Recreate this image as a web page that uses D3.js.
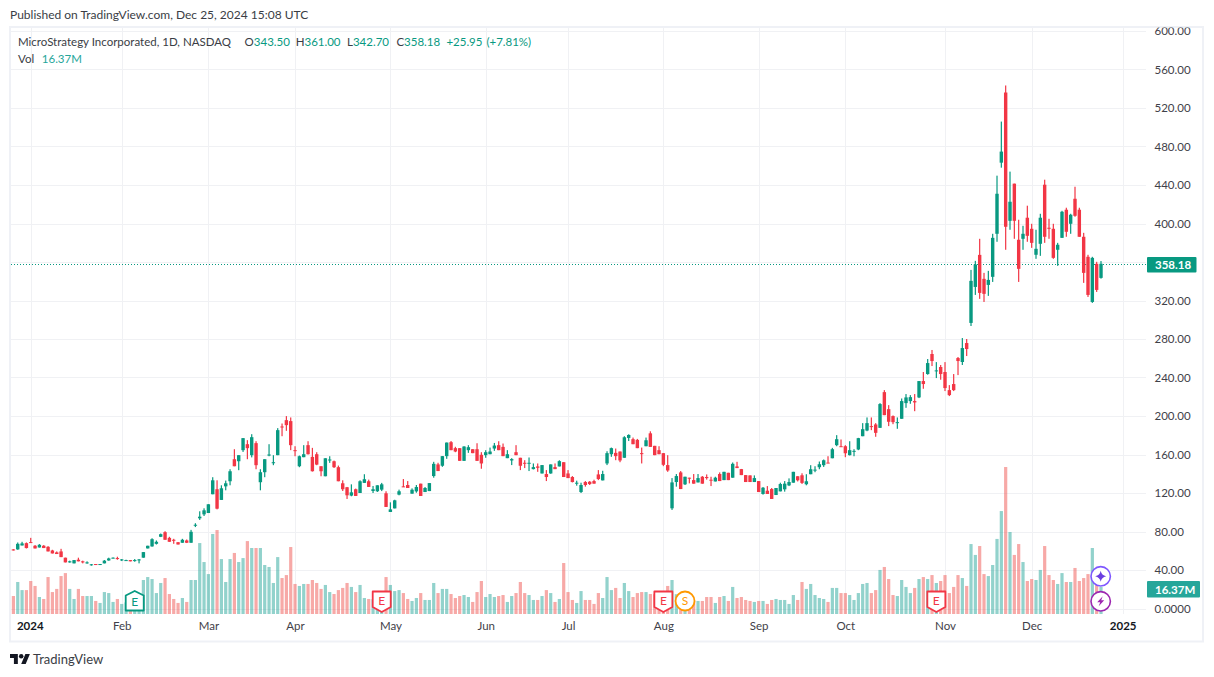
<!DOCTYPE html>
<html>
<head>
<meta charset="utf-8">
<script src="https://cdn.jsdelivr.net/npm/d3@7"></script>
<style>
  html, body { margin: 0; padding: 0; background: #fff; }
  text, .tick text { font-family: Lato, "Noto Sans", sans-serif; }
</style>
</head>
<body>
<script>
// Daily candles, position 0 = last days of Dec 2023, position 251 = Dec 24 2024
var opens = [
  61.4,61.4,65.5,67.9,69,65.2,63.4,65.2,64.1,60.3,
  58.3,59.3,52.8,47.9,46.9,50.7,49,47.6,45.2,46.2,
  45.9,46.9,49.9,52,52.4,50,49.9,50.3,49.9,50.3,
  52.8,62.4,64.5,67.2,74.5,79.3,73.4,71.4,68.9,68.3,
  70.7,68.3,86.5,93.7,97.8,99.2,118.7,123.9,112.8,126.9,
  132.2,155.1,153,164.5,170.7,159.3,171.8,131.2,141.6,158.9,
  150.9,159.3,189.1,195.7,194.7,164.5,147.8,157.2,169.7,157.5,
  160.3,147.8,137.4,154.5,153,146.8,130.1,126,117.3,123.9,
  120,130.5,132.2,122.1,121.8,123.5,119.7,100.3,104,118.3,
  126.9,128.3,119.3,121.7,129.7,121,122,137.6,149.7,148.3,
  158.3,172.8,166.6,166.6,153.4,164.5,165.5,165.5,159.7,159.3,
  160.3,166.2,169.7,167.9,156.2,153.8,162.4,156.6,151.4,150.7,
  144.8,147.6,140.3,139.7,140.3,146.9,147.6,152,140.3,136.6,
  130,121,131.4,131.7,132.4,139.3,133.1,150.7,160.3,161.7,
  163.1,156.6,177.2,175.9,175.2,161.4,168.6,182,169,164.5,
  161.4,149,104.1,131.4,141.4,129,135.9,133.4,131,136.9,
  136.6,133.8,132,139.7,133.4,141,135.9,147.6,144.8,138.6,
  138.3,131.4,132.4,119,122.4,124.1,117.9,121.7,123.8,127.9,
  130.7,137.4,138.4,129.1,139.5,143.3,146.8,148.9,151.6,156.1,
  169.7,168.6,168.6,159.3,163.1,165.2,179,184.9,189.5,191.2,
  187.7,224.8,207.1,199.9,192.9,197.1,213.4,215.5,215.5,219.3,
  236.3,243.6,264.4,246.4,250.9,245.7,226.9,233.2,260.2,256.1,
  275.8,296.7,334.1,367.4,342.5,336.2,344.6,389.3,463.2,536.1,
  402.8,441.4,383.1,384.1,406,394.5,367.5,378.9,440.3,395.6,
  394.5,372.7,385.1,414.3,399.7,425.7,414.3,386.2,365.4,318.5,
  358.1,343.5
];
var closes = [
  60.3,67.2,67.6,62.8,68.5,62.4,66.2,62.8,59.3,57.2,
  56.6,53.4,47.9,49,50.3,49,47.9,47.9,45.9,45.9,
  46.2,49.7,52,52.8,51.4,51,50.3,49,50.3,51,
  58.6,65.2,72,69.3,77.2,71.4,69.3,70.7,66.5,71.4,
  68.3,79.7,87,95.4,102,108.3,133.2,103.7,124.9,130.1,
  142.6,147.8,159.3,177,166.6,178,148.9,141.6,155.1,160,
  152,185.3,188.4,190.5,169.7,164,158.2,160.3,160.3,142.6,
  149.5,142.6,156.1,154.8,146.8,132.2,123.9,117.6,120.7,116.9,
  132.2,134.3,126.3,123.9,128,129,105.5,103,112.4,121.8,
  126.2,125.2,123.4,126.2,116.9,125.2,130.3,150.3,142.8,158.3,
  172.4,164.5,163.1,153.4,168.3,167.6,161.4,153.4,150.7,162.4,
  163.1,169.3,164.5,158.3,160.3,155.2,159.3,148.3,150.7,151.4,
  146.9,146.2,149,136.6,149.7,144.8,153.1,136.6,135.5,131.4,
  130.7,128.3,128.3,129.3,129.7,134.5,139.7,161.4,166.6,158.3,
  153.8,177.9,180.3,170.7,166.6,161,174.8,167.9,159.3,160.3,
  149.3,143.4,131,137.6,124.1,136.9,135.5,129.7,135.5,129.7,
  135.5,133.4,135.9,132.4,142,133.4,150.3,145.9,138.6,131.4,
  131.4,135.5,121,125.5,119,113.8,125.2,129.3,129.7,131.4,
  142,133.2,130.5,132.2,144.7,144.3,149.9,154,151.3,165.5,
  175.9,167.9,161.3,164.5,163.8,177,186.3,192.6,188.8,182.5,
  212.4,200.9,194,193.6,193.6,215.5,219.3,219.6,214.1,236.3,
  233.2,255,257.1,247.4,243.6,229,221.7,226.9,257.1,270.6,
  269.6,340.4,357.4,327.9,326.9,341.4,385.1,430.9,474.7,396.6,
  422.6,402.8,352.9,389.3,387.2,379.9,373.7,406,386.2,394.5,
  364.3,377.9,412.2,391.4,409.1,408,386.2,348.7,325.8,364.3,
  331,358.18
];
var highs = [
  61.6,68.6,69.3,68.6,73.4,65.9,66.9,65.9,64.8,61,
  59.3,62,52.8,49.7,50.3,52.8,49.7,49,46.2,46.2,
  46.2,50.3,52.8,53.1,53.8,51.4,50.7,50.3,51.4,51.4,
  58.6,65.2,73,70.7,77.9,80.3,74.5,72.4,68.9,72.4,
  71.7,81.7,88.6,101,104.1,108.3,136.4,133.2,128,132.9,
  144.7,165.5,159.3,177,174.9,181.1,173.8,144.7,155.1,170.7,
  159.3,187.4,192.2,199.9,198.5,168.6,158.9,169.7,173.8,166.9,
  162.4,147.8,156.1,158.2,153.7,148.5,133.2,126.3,129,124.6,
  133.2,139.5,133.9,127.3,128,130.5,121.8,110.3,113,123.5,
  134.5,132.4,124.8,128.3,129.7,126.2,130.3,152.4,151.4,158.3,
  172.4,174,168,166.6,168.6,169.7,165.5,171.7,162.4,164.5,
  167.2,172,173.8,171.4,164.5,156.2,169.7,156.6,154.1,156.9,
  150.7,150.7,149,143.8,149.7,150.7,154,152,143.8,137.6,
  132.8,130.7,132.4,132.4,133.8,143.8,143.1,163.4,167.2,166.2,
  163.1,179,181,177.6,176.2,167.2,177.6,184.1,169,168.6,
  161.4,159.3,135.5,139.7,142.8,136.9,135.9,139.7,139.7,137.6,
  139.3,136.9,136.9,141.4,142,141,151.7,152.4,145,138.6,
  138.3,138.3,132.4,126.2,127.2,125.2,125.2,130.7,132.4,135.2,
  142,137.4,140.5,139.5,148.9,147.8,152.7,154.8,158.2,166.9,
  180.1,175.6,169.7,173.8,165.5,177.3,192.6,198.5,198.5,192.6,
  213.4,226.9,211.3,200.6,198.5,218.2,222.8,221.7,222.8,236.3,
  245.7,259.2,268.6,256,253,256,232.1,243.6,261.3,281,
  280,351.8,361.2,384.1,348.7,350.8,389.3,449.7,505.9,543.4,
  453.9,441.4,403.9,397.6,418.5,399.7,393.5,410.1,445.5,404.9,
  399.7,379.9,413.2,416.4,410.1,438.2,416.4,390.3,367.5,365.4,
  360.2,361
];
var lows = [
  60.3,61,65.5,62.4,68.4,62.4,63.4,62.8,59.3,57.2,
  56.6,53.4,47.9,47.6,46.9,49,46.9,46.5,44.5,45.9,
  45.9,46.9,49.7,52,50.7,49.3,49.9,49,48.6,46.9,
  52.8,62.4,64.2,66.5,74.2,71.4,69.3,67.2,66.5,68.3,
  68,68.3,84.6,92,96.1,99.2,118.7,103,112.8,122.8,
  128,147.8,143.7,162.7,155.1,157,144.7,122.8,136.4,158.2,
  148.9,159.3,179,184.6,164.5,158.2,146.8,157.2,160,142.3,
  148.9,137.4,137.4,151.3,146,132.2,122.1,113.8,116.6,116.9,
  120,130.5,126.3,120,121.1,122,105.5,100.3,104,117.6,
  126.2,125.2,119.3,120.3,116.9,121,122,135.9,142.8,147.2,
  155.5,164.5,162.4,153.4,153.4,161.7,161.4,153.4,145.2,156.6,
  160.3,163.8,164.5,158.3,156.2,149,159.3,143.8,145.9,142.8,
  144.5,142,140.3,132.4,140,144.8,147.6,136.6,135.5,131,
  127.6,120,126.6,128.3,129.7,133.4,133.1,149,157.6,154.1,
  152,156.6,174,170.7,166.6,150.7,168.6,167.9,159.3,160.3,
  147.9,142,102.4,126.6,124.1,128.3,130,129.7,131,129.7,
  133.9,127.2,132,132.4,133.4,133.4,135.9,145.9,138.6,131.4,
  131.4,131.4,121,118.3,119,113.8,117.9,121.7,121.4,127.2,
  130.7,132,129.4,128,139.5,141.6,144.7,147.1,151.3,156.1,
  168.6,167.9,157.2,159,158.2,164.5,179,184.2,185.3,178.4,
  187.7,200.9,189.5,191.5,186.7,197.1,208.5,212.7,205,218.6,
  228.3,242.9,251.9,239.4,237.7,225.9,220.7,225.9,242.5,253,
  262.3,293.5,325.8,321.7,318.5,324.8,339.3,381,458,372.7,
  393.5,384.1,339.3,372.7,381,374.7,363.3,366.4,379.9,384.1,
  363.3,356,385.1,386.2,389.3,407,386.2,338.3,323.7,317.5,
  328.9,342.7
];
// Volume in millions
var volumes = [
  10.9,19.4,14.5,14.5,20,17,10.3,9.1,22.4,13.3,
  15.2,23,24.8,15.2,9.1,15.2,10.9,10.9,10.9,7.9,
  6.7,13.3,12.7,7.3,9.1,6.1,7,6,7,8,
  20.6,22.4,21.2,12.7,18.8,21.8,12.1,9.1,6.7,9.7,
  7.3,20.6,20.6,43,31.5,24.2,48.5,50.9,33.3,19.4,
  33.3,37,31.5,33.9,44.2,40,40,40,29.7,28.5,
  18.8,34.5,21.8,23.6,40.6,18.2,17,18.2,18.2,20.6,
  18.8,15.2,17.6,13.3,12.1,14.5,15.8,18.8,16.4,13.3,
  17.6,9.7,9.1,9,10,10,22.4,17.6,13.9,14.5,
  12.7,9.1,7.9,9.7,12.7,8.5,8.5,18.8,12.7,15.2,
  15.2,12.1,9.7,10.9,11.5,10.3,7.3,13.3,20,10.3,
  12.1,10.3,10.9,11.5,7.3,10.9,12.7,19.4,12.7,11.5,
  8.5,8.5,10.9,14.5,12.7,7.3,9.1,30.9,13.3,8.5,
  6.7,13.9,8.5,8.5,6.1,12.7,9.7,22.4,14.5,15.8,
  9.7,18.8,13.9,10.3,12.7,13.3,13.3,12.1,12,10,
  12,17,20.6,12,10,10,8,8,7.9,7.9,
  10.3,10.3,6.7,10.3,10.9,7.9,16.4,9.7,10.3,8.5,
  7.9,7.3,7.9,7.9,6.1,8.5,9.1,8.5,8.5,6.1,
  11.5,8.5,19.4,15.2,18.2,11.5,9.7,9.1,7.3,15.8,
  15.8,12.7,12.7,11.5,8.5,12.7,18.2,18.8,12.7,14.5,
  26.7,28.5,21.2,11.5,10.9,20.6,16.4,12.7,15.8,21.2,
  22.4,21.2,23.6,18.8,20,23.6,12.7,16.4,23.6,21.8,
  17,42.4,35.8,41.2,24.2,23,29.7,45.5,62.4,89.1,
  49.7,35.8,42.4,31.5,20,21.2,20.6,26.7,41.2,23.6,
  20.6,18.2,24.8,19.4,19.4,27.9,20,21.8,24.2,40,
  17.6,16.37
];

// Axis labels
var timeLabels = ['2024', 'Feb', 'Mar', 'Apr', 'May', 'Jun', 'Jul', 'Aug', 'Sep', 'Oct', 'Nov', 'Dec', '2025'];
var timeTicks = [4, 25, 45, 65, 87, 109, 128, 150, 172, 192, 215, 235, 256];
var gridPrices = [0, 40, 80, 120, 160, 200, 240, 280, 320, 360, 400, 440, 480, 520, 560, 600];
// 360 sits behind the last price tag, so it gets no label
var priceTicks = [0, 40, 80, 120, 160, 200, 240, 280, 320, 400, 440, 480, 520, 560, 600];

// Event markers (candle positions)
var earningsBeat = [28];
var earningsMiss = [85, 150, 213];
var splitDays = [155];

// Legend
var legendTitle = 'MicroStrategy Incorporated, 1D, NASDAQ';
var ohlcLabels = ['O', 'H', 'L', 'C'];
var ohlcValues = ['343.50', '361.00', '342.70', '358.18'];
var lastChange = '+25.95';
var lastChangePct = '(+7.81%)';
var lastPrice = 358.18;
var lastVolume = '16.37M';

var UP = '#089981', DOWN = '#f23645';
var W = 1214, H = 677;

var svg = d3.select('body').append('svg').attr('width', W).attr('height', H).style('display', 'block');

// Scales
var x = d3.scaleLinear().domain([0, 251]).range([13.4, 1101]);
var y = d3.scaleLinear().domain([0, 600]).range([608.5, 31]);
var yVol = d3.scaleLinear().domain([0, 89.1]).range([614, 467]);

var chartLeft = 11, chartRight = 1146, chartTop = 28, chartBottom = 614;

var defs = svg.append('defs');
defs.append('clipPath').attr('id', 'plot').append('rect')
  .attr('x', chartLeft).attr('y', chartTop)
  .attr('width', chartRight - chartLeft).attr('height', chartBottom - chartTop);
defs.append('clipPath').attr('id', 'priceclip').append('rect')
  .attr('x', chartRight).attr('y', 27.5).attr('width', 55).attr('height', 600);

// Outer frame
svg.append('rect')
  .attr('x', 10).attr('y', 27)
  .attr('width', 1193).attr('height', 614.5)
  .attr('fill', 'none').attr('stroke', '#eff1f6').attr('stroke-width', 2);

// Grid
var grid = svg.append('g').attr('clip-path', 'url(#plot)').attr('shape-rendering', 'crispEdges');
grid.selectAll('.h')
  .data(gridPrices)
  .enter()
  .append('line')
  .attr('x1', chartLeft).attr('x2', chartRight)
  .attr('y1', (d) => Math.round(y(d)) + 0.5)
  .attr('y2', (d) => Math.round(y(d)) + 0.5)
  .attr('stroke', '#f0f1f4');
grid.selectAll('.v')
  .data(timeTicks)
  .enter()
  .append('line')
  .attr('y1', chartTop).attr('y2', chartBottom)
  .attr('x1', (d) => Math.round(x(d)) + 0.5)
  .attr('x2', (d) => Math.round(x(d)) + 0.5)
  .attr('stroke', '#f0f1f4');

var plot = svg.append('g').attr('clip-path', 'url(#plot)');

// Last price dotted line
plot.append('line')
  .attr('x1', chartLeft).attr('x2', chartRight)
  .attr('y1', Math.round(y(lastPrice)) + 0.5)
  .attr('y2', Math.round(y(lastPrice)) + 0.5)
  .attr('stroke', UP)
  .attr('stroke-dasharray', '1 2');

// Volume bars
plot.selectAll('.vol')
  .data(volumes)
  .enter()
  .append('rect')
  .attr('class', 'vol')
  .attr('x', (d, i) => x(i) - 1.6)
  .attr('width', 3.2)
  .attr('y', (d) => yVol(d))
  .attr('height', (d) => yVol(0) - yVol(d))
  .attr('fill', (d, i) => (closes[i] >= opens[i] ? '#26a69a' : '#ef5350'))
  .attr('fill-opacity', 0.5);

// Wicks
plot.selectAll('.wick')
  .data(highs)
  .enter()
  .append('rect')
  .attr('class', 'wick')
  .attr('x', (d, i) => x(i) - 0.6)
  .attr('width', 1.2)
  .attr('y', (d) => y(d))
  .attr('height', (d, i) => Math.max(1, y(lows[i]) - y(d)))
  .attr('fill', (d, i) => (closes[i] >= opens[i] ? UP : DOWN));

// Bodies
plot.selectAll('.body')
  .data(opens)
  .enter()
  .append('rect')
  .attr('class', 'body')
  .attr('x', (d, i) => x(i) - 1.7)
  .attr('width', 3.4)
  .attr('y', (d, i) => y(Math.max(d, closes[i])))
  .attr('height', (d, i) => Math.max(1, Math.abs(y(d) - y(closes[i]))))
  .attr('fill', (d, i) => (closes[i] >= d ? UP : DOWN));

// Price axis
var priceAxis = svg.append('g')
  .attr('clip-path', 'url(#priceclip)')
  .append('g')
  .attr('transform', 'translate(1154.5,0)')
  .call(
    d3.axisRight(y)
      .tickValues(priceTicks)
      .tickSize(0)
      .tickPadding(0)
      .tickFormat((d) => (d === 0 ? '0.0000' : d3.format('.2f')(d)))
  );
priceAxis.select('.domain').remove();
priceAxis.selectAll('text').attr('font-size', 11.5).attr('fill', '#3f4149');

// Time axis
var timeAxis = svg.append('g')
  .attr('transform', 'translate(0,620)')
  .call(
    d3.axisBottom(x)
      .tickValues(timeTicks)
      .tickSize(0)
      .tickPadding(2)
      .tickFormat((d, i) => timeLabels[i])
  );
timeAxis.select('.domain').remove();
timeAxis.selectAll('text')
  .attr('font-size', 11.5)
  .attr('fill', (d, i) => (timeLabels[i].length === 4 ? '#131722' : '#3f4149'))
  .attr('font-weight', (d, i) => (timeLabels[i].length === 4 ? 700 : 400))
  .attr('dx', (d, i) => (i === 0 ? -1 : 0));

// Price and volume tags
svg.append('rect').attr('x', 1147).attr('y', 257).attr('width', 49.5).attr('height', 15.5).attr('fill', UP).attr('rx', 1);
svg.append('text').attr('x', 1155).attr('y', 269).attr('font-size', 11.5).attr('font-weight', 700).attr('fill', '#fff').text(d3.format('.2f')(lastPrice));
svg.append('rect').attr('x', 1147).attr('y', 581).attr('width', 53).attr('height', 16.5).attr('fill', '#26a69a').attr('rx', 1);
svg.append('text').attr('x', 1155).attr('y', 593.5).attr('font-size', 11.5).attr('font-weight', 700).attr('fill', '#fff').text(lastVolume);

// Event markers
var marker = svg.append('g');

var up = marker.selectAll('.beat').data(earningsBeat).enter().append('g')
  .attr('transform', (d) => 'translate(' + x(d) + ',601)');
up.append('path').attr('d', 'M0,-10 L9,-5.5 V9.5 H-9 V-5.5 Z')
  .attr('fill', '#fff').attr('stroke', UP).attr('stroke-width', 1.8).attr('stroke-linejoin', 'round');
up.append('text').attr('text-anchor', 'middle').attr('y', 5).attr('font-size', 12).attr('fill', UP).text('E');

var miss = marker.selectAll('.miss').data(earningsMiss).enter().append('g')
  .attr('transform', (d) => 'translate(' + x(d) + ',601)');
miss.append('path').attr('d', 'M-9,-9.5 H9 V6 L0,11 L-9,6 Z')
  .attr('fill', '#fff').attr('stroke', DOWN).attr('stroke-width', 1.8).attr('stroke-linejoin', 'round');
miss.append('text').attr('text-anchor', 'middle').attr('y', 4).attr('font-size', 12).attr('fill', DOWN).text('E');

var split = marker.selectAll('.split').data(splitDays).enter().append('g')
  .attr('transform', (d) => 'translate(' + x(d) + ',601)');
split.append('circle').attr('r', 9.5).attr('fill', '#fff').attr('stroke', '#ff9800').attr('stroke-width', 1.8);
split.append('text').attr('text-anchor', 'middle').attr('y', 4).attr('font-size', 12).attr('fill', '#ff9800').text('S');

var star = marker.append('g').attr('transform', 'translate(1100.7,576.3)');
star.append('circle').attr('r', 9.7).attr('fill', '#fff').attr('stroke', '#7e57ff').attr('stroke-width', 1.6);
star.append('path').attr('d', 'M0,-5.5 Q0.8,-1 5.5,0 Q0.8,1 0,5.5 Q-0.8,1 -5.5,0 Q-0.8,-1 0,-5.5 Z').attr('fill', '#6c3fe0');

var bolt = marker.append('g').attr('transform', 'translate(1100.7,601.3)');
bolt.append('circle').attr('r', 9.7).attr('fill', '#fff').attr('stroke', '#9c27b0').attr('stroke-width', 1.6);
bolt.append('path').attr('d', 'M2,-5 L-3.5,1 H-0.5 L-2,5 L3.5,-1 H0.5 Z').attr('fill', '#9c27b0');

// Header text
svg.append('text').attr('x', 10).attr('y', 19).attr('font-size', 12).attr('fill', '#3a3d45')
  .text('Published on TradingView.com, Dec 25, 2024 15:08 UTC');

var legend = svg.append('g').attr('font-size', 11.5);
legend.append('text').attr('x', 18).attr('y', 46).attr('fill', '#3a3d45').text(legendTitle);

var ohlcX = [244.6, 295.7, 347, 396.4];
ohlcLabels.forEach(function (label, i) {
  var t = legend.append('text').attr('x', ohlcX[i]).attr('y', 46).attr('fill', '#3a3d45');
  t.append('tspan').text(label);
  t.append('tspan').attr('fill', UP).text(ohlcValues[i]);
});
legend.append('text').attr('x', 446.4).attr('y', 46).attr('fill', UP).text(lastChange);
legend.append('text').attr('x', 486.4).attr('y', 46).attr('fill', UP).text(lastChangePct);
legend.append('text').attr('x', 18).attr('y', 63).attr('fill', '#3a3d45').text('Vol');
legend.append('text').attr('x', 41.8).attr('y', 63).attr('fill', '#26a69a').text(lastVolume);

// TradingView logo
var logo = svg.append('g').attr('transform', 'translate(10,651.8) scale(0.56)').attr('fill', '#131722');
logo.append('path').attr('d', 'M14 22H7V11H0V4h14v18zM28 22h-8l7.5-18h8L28 22z');
logo.append('circle').attr('cx', 20).attr('cy', 8).attr('r', 4);
svg.append('text').attr('x', 33).attr('y', 664).attr('font-size', 13).attr('fill', '#3a3d45').text('TradingView');
</script>
</body>
</html>
